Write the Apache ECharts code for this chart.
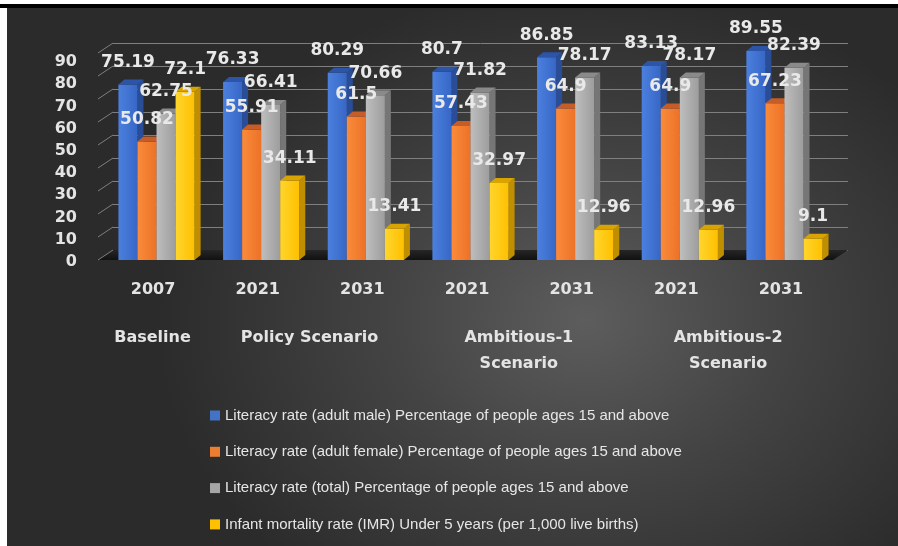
<!DOCTYPE html>
<html>
<head>
<meta charset="utf-8">
<script src="https://cdn.jsdelivr.net/npm/echarts@6/dist/echarts.min.js"></script>
<style>
  html, body { margin: 0; height: 100%; background: #fff; overflow: hidden; }
  #topbar { position: absolute; left: 0; top: 4px; width: 898px; height: 4px; background: #000; }
  #container {
    position: absolute; left: 7px; top: 8px; width: 891px; height: 538px;
    background: radial-gradient(ellipse 430px 340px at 65% 58%, #5d5d5d 0%, #444 45%, #2b2b2b 100%);
  }
</style>
</head>
<body>
<div id="topbar"></div>
<div id="container"></div>
<script type="text/javascript">
// ---- data ----
var categories = ['2007', '2021', '2031', '2021', '2031', '2021', '2031'];
var scenarios = ['Baseline', 'Policy Scenario', 'Ambitious-1\nScenario', 'Ambitious-2\nScenario'];
var scenarioPos = [0, 1.5, 3.5, 5.5];
var maleLit = [75.19, 76.33, 80.29, 80.7, 86.85, 83.13, 89.55];
var femaleLit = [50.82, 55.91, 61.5, 57.43, 64.9, 64.9, 67.23];
var totalLit = [62.75, 66.41, 70.66, 71.82, 78.17, 78.17, 82.39];
var imr = [72.1, 34.11, 13.41, 32.97, 12.96, 12.96, 9.1];
var yTicks = [0, 10, 20, 30, 40, 50, 60, 70, 80, 90];

var seriesNames = [
    'Literacy rate (adult male) Percentage of people ages 15 and above',
    'Literacy rate (adult female) Percentage of people ages 15 and above',
    'Literacy rate (total) Percentage of people ages 15 and above',
    'Infant mortality rate (IMR) Under 5 years (per 1,000 live births)'
];
var seriesValues = [maleLit, femaleLit, totalLit, imr];

// bar look: front gradient, side and top colours
var looks = [
    { base: '#4472c4', front: ['#4c80de', '#3767c6'], side: '#2a4d98', top: '#2c55a8' },
    { base: '#ed7d31', front: ['#fa8b3b', '#ec7227'], side: '#b3581d', top: '#c65d28' },
    { base: '#a5a5a5', front: ['#bebebe', '#9d9d9d'], side: '#767676', top: '#8a8a8a' },
    { base: '#ffc000', front: ['#ffd52c', '#ffc000'], side: '#c08f00', top: '#d9a300' }
];

var DX = 6, DY = -5;       // depth of bar tops/sides
var FONT = '"DejaVu Sans", sans-serif';
var GRID_COLOR = '#7f7f7f';

var dom = document.getElementById('container');
var myChart = echarts.init(dom, null, { renderer: 'canvas' });

function barRenderer(s) {
    return function (params, api) {
        var idx = api.value(0), v = api.value(1);
        var base = api.coord([idx, 0]);
        var top = api.coord([idx, v]);
        var band = api.size([1, 0])[0];
        var w = band * 0.182;
        var x = base[0] - 2 * w + s * w;
        var lk = looks[s];
        return {
            type: 'group',
            children: [
                {
                    type: 'polygon',
                    shape: { points: [[x + w, top[1]], [x + w + DX, top[1] + DY], [x + w + DX, base[1] + DY], [x + w, base[1]]] },
                    style: { fill: lk.side }
                },
                {
                    type: 'rect',
                    shape: { x: x, y: top[1], width: w, height: base[1] - top[1] },
                    style: {
                        fill: {
                            type: 'linear', x: 0, y: 0, x2: 1, y2: 0,
                            colorStops: [{ offset: 0, color: lk.front[0] }, { offset: 1, color: lk.front[1] }]
                        }
                    }
                },
                {
                    type: 'polygon',
                    shape: { points: [[x, top[1]], [x + w, top[1]], [x + w + DX, top[1] + DY], [x + DX, top[1] + DY]] },
                    style: { fill: lk.top }
                },
                {
                    type: 'text',
                    z2: 100,
                    style: {
                        text: String(v),
                        x: x + w / 2,
                        y: top[1] - 22,
                        align: 'center',
                        verticalAlign: 'middle',
                        fill: '#e9e9e9',
                        font: 'bold 17px ' + FONT
                    }
                }
            ]
        };
    };
}

var series = [];

// floor of the 3D box
series.push({
    type: 'custom',
    xAxisIndex: 2,
    yAxisIndex: 1,
    silent: true,
    z: 1,
    data: [[0, 0]],
    renderItem: function (params, api) {
        var bl = api.coord([0, 0]);
        var br = api.coord([1, 0]);
        return {
            type: 'polygon',
            shape: { points: [bl, br, [br[0] - 15, br[1] + 10], [bl[0] - 15, bl[1] + 10]] },
            style: {
                fill: {
                    type: 'linear', x: 0, y: 0, x2: 0, y2: 1,
                    colorStops: [{ offset: 0, color: '#262626' }, { offset: 1, color: '#111' }]
                }
            }
        };
    }
});

// diagonal tick lines from the front labels to the back wall
series.push({
    type: 'custom',
    xAxisIndex: 2,
    yAxisIndex: 1,
    silent: true,
    z: 1,
    data: yTicks.map(function (t) { return [0, t]; }),
    renderItem: function (params, api) {
        var p = api.coord([0, api.value(1)]);
        return {
            type: 'line',
            shape: { x1: p[0] - 15, y1: p[1] + 10, x2: p[0], y2: p[1] },
            style: { stroke: GRID_COLOR, lineWidth: 1 }
        };
    }
});

for (var s = 0; s < 4; s++) {
    series.push({
        name: seriesNames[s],
        type: 'custom',
        xAxisIndex: 0,
        yAxisIndex: 0,
        z: 2,
        itemStyle: { color: looks[s].base },
        encode: { x: 0, y: 1 },
        data: seriesValues[s].map(function (v, i) { return [i, v]; }),
        renderItem: barRenderer(s)
    });
}

var option = {
    backgroundColor: 'transparent',
    animation: false,
    grid: [
        { left: 97.2, right: 61.2, top: 42, bottom: 286 },   // bars (front plane)
        { left: 106, right: 50, top: 35, bottom: 296 },      // back wall
        { left: 78, width: 10, top: 54, bottom: 284 }        // y labels
    ],
    xAxis: [
        {
            type: 'category', gridIndex: 0, data: categories,
            axisLine: { show: false }, axisTick: { show: false },
            axisLabel: {
                margin: 22, color: '#e4e4e4', fontFamily: FONT, fontWeight: 'bold', fontSize: 16,
                padding: [0, 7, 0, 0]
            }
        },
        {
            type: 'value', gridIndex: 0, min: -0.5, max: 6.5, interval: 0.5, position: 'bottom',
            splitLine: { show: false }, axisLine: { show: false }, axisTick: { show: false },
            axisLabel: {
                margin: 65, color: '#e4e4e4', fontFamily: FONT, fontWeight: 'bold', fontSize: 16,
                lineHeight: 26, verticalAlign: 'top', padding: [0, 8, 0, 0],
                showMinLabel: false, showMaxLabel: false,
                formatter: function (val) {
                    var k = scenarioPos.indexOf(val);
                    return k >= 0 ? scenarios[k] : '';
                }
            }
        },
        { type: 'value', gridIndex: 1, min: 0, max: 1, show: false },
        { type: 'value', gridIndex: 2, min: 0, max: 1, show: false }
    ],
    yAxis: [
        { type: 'value', gridIndex: 0, min: 0, max: 90, show: false },
        {
            type: 'value', gridIndex: 1, min: 0, max: 90, interval: 10,
            axisLine: { show: false }, axisTick: { show: false }, axisLabel: { show: false },
            splitLine: { show: true, lineStyle: { color: GRID_COLOR, width: 1 } }
        },
        {
            type: 'value', gridIndex: 2, min: 0, max: 90, interval: 10,
            axisLine: { show: false }, axisTick: { show: false }, splitLine: { show: false },
            axisLabel: { margin: 8, color: '#e4e4e4', fontFamily: FONT, fontWeight: 'bold', fontSize: 16 }
        }
    ],
    legend: {
        data: seriesNames,
        orient: 'vertical',
        left: 198,
        top: 394,
        itemGap: 19.3,
        itemWidth: 10,
        itemHeight: 10,
        icon: 'rect',
        textStyle: { color: '#e6e6e6', fontSize: 15, lineHeight: 17, fontFamily: '"Liberation Sans", sans-serif' }
    },
    series: series
};

myChart.setOption(option);
</script>
</body>
</html>
